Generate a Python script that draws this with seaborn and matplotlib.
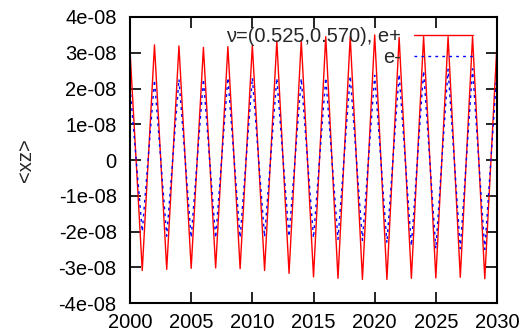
import numpy as np
import pandas as pd
import matplotlib
matplotlib.use("Agg")
import matplotlib.pyplot as plt
import seaborn as sns

# yearly samples of <xz>
years = list(range(2000, 2031))
xz_pos = [3.05, -3.09, 3.22, -3.06, 3.19, -3.03, 3.15, -3.02, 3.17, -3.04,
          3.21, -3.09, 3.33, -3.17, 3.35, -3.27, 3.45, -3.31, 3.45, -3.34,
          3.50, -3.34, 3.43, -3.31, 3.45, -3.30, 3.45, -3.28, 3.45, -3.32, 3.25]
xz_neg = [2.03, -2.00, 2.24, -2.13, 2.26, -2.17, 2.26, -2.18, 2.30, -2.17,
          2.30, -2.15, 2.29, -2.14, 2.28, -2.18, 2.30, -2.22, 2.35, -2.25,
          2.37, -2.32, 2.40, -2.40, 2.49, -2.48, 2.54, -2.48, 2.55, -2.50, 2.50]
scale = 1e-8

series_labels = ["ν=(0.525,0.570), e+", "e-"]
x_ticks = [2000, 2005, 2010, 2015, 2020, 2025, 2030]
y_ticks = [-4e-08, -3e-08, -2e-08, -1e-08, 0, 1e-08, 2e-08, 3e-08, 4e-08]
y_tick_labels = ["-4e-08", "-3e-08", "-2e-08", "-1e-08", "0",
                 "1e-08", "2e-08", "3e-08", "4e-08"]

df = pd.DataFrame({
    "year": years * 2,
    "xz": [v * scale for v in xz_pos] + [v * scale for v in xz_neg],
    "series": [series_labels[0]] * len(years) + [series_labels[1]] * len(years),
})

sns.set_style("ticks")
plt.rcParams["font.family"] = ["Liberation Sans", "DejaVu Sans"]

fs = 14.5
fig = plt.figure(figsize=(5.23, 3.32), dpi=100)
ax = fig.add_axes([0.2486, 0.0873, 0.7017, 0.8615])

sns.lineplot(data=df[df.series == series_labels[0]], x="year", y="xz",
             color="#ff0000", linewidth=1.0, ax=ax, label=series_labels[0])
sns.lineplot(data=df[df.series == series_labels[1]], x="year", y="xz",
             color="#0000ff", linewidth=1.0, linestyle=(0, (2, 3)), ax=ax,
             label=series_labels[1])

ax.set_xlim(2000, 2030)
ax.set_ylim(-4e-08, 4e-08)
ax.set_xticks(x_ticks)
ax.set_xticklabels([str(t) for t in x_ticks])
ax.set_yticks(y_ticks)
ax.set_yticklabels(y_tick_labels)
ax.tick_params(axis="both", which="major", direction="in", length=8, width=1.2,
               labelsize=fs, top=True, right=True, color="black",
               labelcolor="black")
ax.tick_params(axis="x", pad=7.4)
ax.tick_params(axis="y", pad=9.6)
for side in ax.spines.values():
    side.set_visible(True)
    side.set_linewidth(1.5)
    side.set_color("black")

ax.set_xlabel("")
ax.set_ylabel("<xz>", fontsize=fs, labelpad=17)

leg = ax.legend(loc="upper right", bbox_to_anchor=(0.956, 0.993),
                markerfirst=False, frameon=False, fontsize=fs,
                handlelength=2.9, handletextpad=0.67, labelspacing=0.12,
                borderaxespad=0)

fig.savefig("out.png", dpi=100)
